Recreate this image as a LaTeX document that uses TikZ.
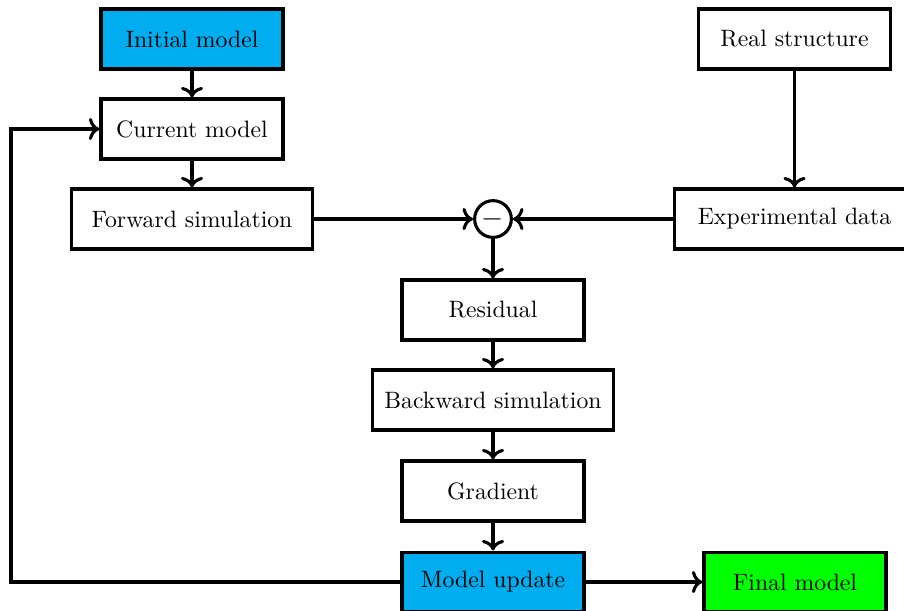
\documentclass[tikz,border=0pt]{standalone}
\usetikzlibrary{arrows.meta}
\definecolor{boxcyan}{RGB}{0,173,239}
\definecolor{boxgreen}{RGB}{0,255,0}
\begin{document}
\begin{tikzpicture}[x=0.422pt,y=-0.422pt,
  blk/.style={draw,line width=1.3pt,minimum width=76.8pt,minimum height=25.3pt,inner xsep=5pt,font=\normalsize},
  conn/.style={line width=1.3pt,->},
  sumnode/.style={draw,circle,line width=1.3pt,minimum size=15.5pt,inner sep=0pt,font=\large}]
\useasboundingbox (0,0) rectangle (904,610);
\node[blk,fill=boxcyan] (init) at (192,39) {Initial model};
\node[blk] (cur) at (192,129) {Current model};
\node[blk,minimum width=101.5pt] (fwd) at (192,219) {Forward simulation};
\node[sumnode] (sum) at (493,219) {$-$};
\node[blk,minimum width=81pt] (real) at (794.5,39) {Real structure};
\node[blk,minimum width=101.5pt] (exp) at (794.5,219) {Experimental data};
\node[blk] (res) at (493,310) {Residual};
\node[blk] (bwd) at (493,400) {Backward simulation};
\node[blk] (grad) at (493,491) {Gradient};
\node[blk,fill=boxcyan] (upd) at (493,582) {Model update};
\node[blk,fill=boxgreen] (fin) at (795,582) {Final model};
\coordinate (c1) at (11,582);
\coordinate (c2) at (11,129);
\draw[conn] (init) -- (cur);
\draw[conn] (cur) -- (fwd);
\draw[conn] (fwd) -- (sum);
\draw[conn] (exp) -- (sum);
\draw[conn] (real) -- (exp);
\draw[conn] (sum) -- (res);
\draw[conn] (res) -- (bwd);
\draw[conn] (bwd) -- (grad);
\draw[conn] (grad) -- (upd);
\draw[conn] (upd) -- (fin);
\draw[conn] (upd.west) -- (c1) -- (c2) -- (cur.west);
\end{tikzpicture}
\end{document}
